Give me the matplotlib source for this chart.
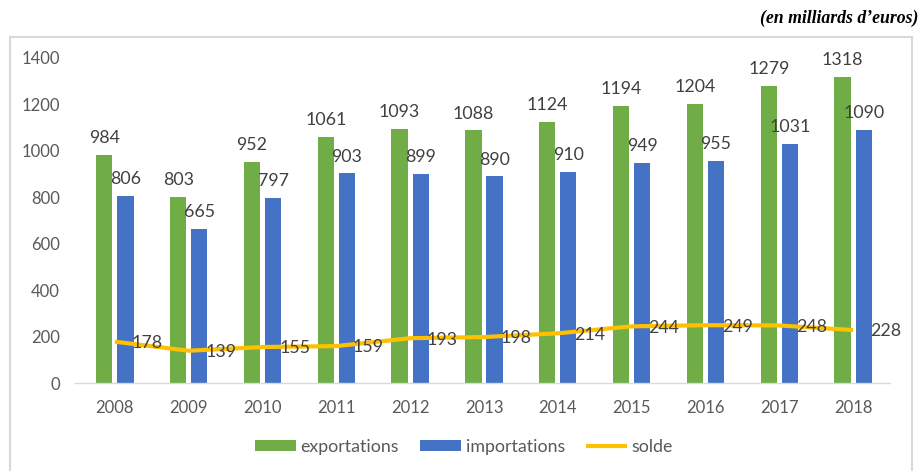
import matplotlib
matplotlib.use("Agg")
import matplotlib.pyplot as plt
import numpy as np
from matplotlib.patches import Rectangle

years = ["2008", "2009", "2010", "2011", "2012", "2013", "2014", "2015", "2016", "2017", "2018"]
exportations = [984, 803, 952, 1061, 1093, 1088, 1124, 1194, 1204, 1279, 1318]
importations = [806, 665, 797, 903, 899, 890, 910, 949, 955, 1031, 1090]
solde = [178, 139, 155, 159, 193, 198, 214, 244, 249, 248, 228]

plt.rcParams['font.family'] = ['Lato', 'DejaVu Sans']

W, H = 921, 471
fig = plt.figure(figsize=(W / 100, H / 100), dpi=100)

# outer border
fig.patches.append(Rectangle((10 / W, -0.01), 902 / W, 1 - 37 / H + 0.01, transform=fig.transFigure,
                             fill=False, edgecolor='#d9d9d9', linewidth=1.5))
fig.text(918 / W, 1 - 18 / H, "(en milliards d\u2019euros)", ha='right', va='center',
         fontsize=12.8, style='italic', fontweight='bold', family='Liberation Serif', color='black')

left, right = 75 / W, 890 / W
bottom, top = 1 - 383 / H, 1 - 58 / H
ax = fig.add_axes([left, bottom, right - left, top - bottom])

x = np.arange(len(years))
green = '#70AD47'
blue = '#4472C4'
yellow = '#FFC000'
bw = 0.22
off = 0.143

b1 = ax.bar(x - off, exportations, bw, color=green, label='exportations', zorder=2)
b2 = ax.bar(x + off, importations, bw, color=blue, label='importations', zorder=2)
ln, = ax.plot(x, solde, color=yellow, lw=3, label='solde', zorder=3, solid_capstyle='butt')

lab_color = '#404040'
fs_lab = 12.8
for xi, v in zip(x, exportations):
    ax.annotate(str(v), (xi - off, v), xytext=(0, 8.5), textcoords='offset points',
                ha='center', va='baseline', fontsize=fs_lab, color=lab_color, zorder=4)
for xi, v in zip(x, importations):
    ax.annotate(str(v), (xi + off, v), xytext=(0, 8.5), textcoords='offset points',
                ha='center', va='baseline', fontsize=fs_lab, color=lab_color, zorder=4)
for xi, v in zip(x, solde):
    ax.annotate(str(v), (xi, v), xytext=(12, -1), textcoords='offset points',
                ha='left', va='center', fontsize=fs_lab, color=lab_color, zorder=4)

ax.set_xlim(-0.54, 10.5)
ax.set_ylim(0, 1400)
ax.set_yticks(np.arange(0, 1401, 200))
ax.set_xticks(x)
ax.set_xticklabels(years)
for s in ['top', 'right', 'left']:
    ax.spines[s].set_visible(False)
ax.spines['bottom'].set_color('#d9d9d9')
ax.spines['bottom'].set_linewidth(1)
ax.tick_params(axis='both', length=0, labelsize=12, labelcolor='#595959')
ax.tick_params(axis='y', pad=11)
ax.tick_params(axis='x', pad=12)
ax.patch.set_alpha(0)

leg = fig.legend(handles=[b1, b2, ln], labels=['exportations', 'importations', 'solde'],
                 loc='center', bbox_to_anchor=(464 / W, 1 - 447 / H), ncol=3, frameon=False,
                 fontsize=12.8, handlelength=2.3, handleheight=0.55, handletextpad=0.25,
                 columnspacing=1.2, labelcolor='#595959')

fig.savefig('out.png', dpi=100)
